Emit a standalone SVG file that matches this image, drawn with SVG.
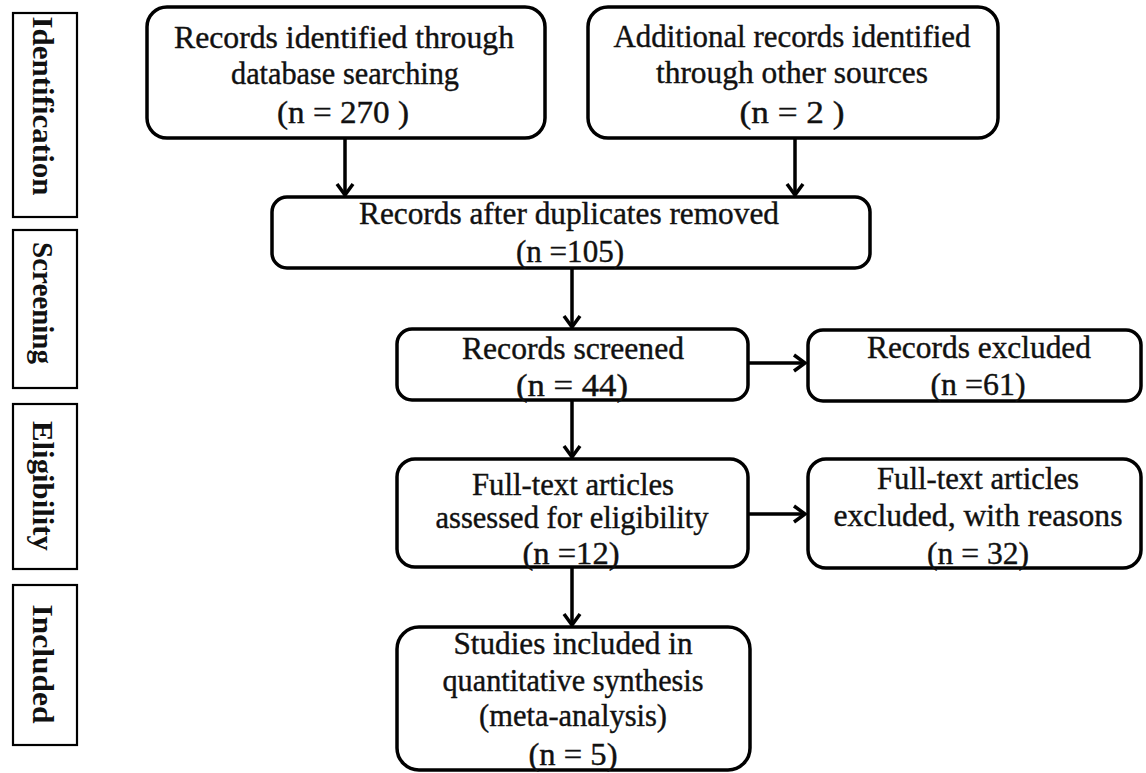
<svg xmlns="http://www.w3.org/2000/svg" width="1146" height="773" viewBox="0 0 1146 773">
<style>
  .bg{fill:#ffffff}
  .box{fill:#ffffff;stroke:#000;stroke-width:3.5}
  .lab{fill:#ffffff;stroke:#000;stroke-width:2.2}
  .c{stroke:#000;stroke-width:3.5;fill:none}
</style>
<defs>
  <marker id="ah" viewBox="-14 -10 16 20" refX="0" refY="0" markerWidth="16" markerHeight="20" markerUnits="userSpaceOnUse" orient="auto">
    <path d="M-11,-8 L0,0 L-11,8" fill="none" stroke="#000" stroke-width="3.5"/>
  </marker>
</defs>
<rect class="bg" x="0" y="0" width="1146" height="773"/>

<g font-family="Liberation Serif, Times New Roman, serif" font-size="29" font-weight="bold" fill="#111" text-anchor="middle">
<g id="stage-identification">
  <rect class="lab" x="13" y="13" width="64" height="204"/>
  <text transform="translate(33,106) rotate(90)" x="0" y="0" textLength="179" lengthAdjust="spacingAndGlyphs">Identification</text>
</g>
<g id="stage-screening">
  <rect class="lab" x="13" y="230" width="64" height="158"/>
  <text transform="translate(33,303) rotate(90)" x="0" y="0" textLength="122" lengthAdjust="spacingAndGlyphs">Screening</text>
</g>
<g id="stage-eligibility">
  <rect class="lab" x="13" y="404" width="64" height="165"/>
  <text transform="translate(33,486) rotate(90)" x="0" y="0" textLength="130" lengthAdjust="spacingAndGlyphs">Eligibility</text>
</g>
<g id="stage-included">
  <rect class="lab" x="13" y="585" width="64" height="160"/>
  <text transform="translate(33,664) rotate(90)" x="0" y="0" textLength="119" lengthAdjust="spacingAndGlyphs">Included</text>
</g>
</g>

<g id="connectors">
  <line class="c" x1="345" y1="138" x2="345" y2="195" marker-end="url(#ah)"/>
  <line class="c" x1="795" y1="138" x2="795" y2="195" marker-end="url(#ah)"/>
  <line class="c" x1="572" y1="268" x2="572" y2="327" marker-end="url(#ah)"/>
  <line class="c" x1="748" y1="363" x2="805" y2="363" marker-end="url(#ah)"/>
  <line class="c" x1="572" y1="400" x2="572" y2="457" marker-end="url(#ah)"/>
  <line class="c" x1="748" y1="514" x2="805" y2="514" marker-end="url(#ah)"/>
  <line class="c" x1="572" y1="567" x2="572" y2="625" marker-end="url(#ah)"/>
</g>

<g font-family="Liberation Serif, Times New Roman, serif" font-size="32" fill="#111" stroke="#111" stroke-width="0.4" text-anchor="middle">
<g id="n-db">
  <rect class="box" x="147" y="7" width="398" height="131" rx="20"/>
  <text x="344" y="48" textLength="340" lengthAdjust="spacingAndGlyphs">Records identified  through</text>
  <text x="345" y="84" textLength="228" lengthAdjust="spacingAndGlyphs">database searching</text>
  <text x="343" y="123" textLength="132" lengthAdjust="spacingAndGlyphs">(n =  270 )</text>
</g>
<g id="n-other">
  <rect class="box" x="588" y="7" width="410" height="131" rx="20"/>
  <text x="792" y="47" textLength="357" lengthAdjust="spacingAndGlyphs">Additional  records identified</text>
  <text x="792" y="83" textLength="272" lengthAdjust="spacingAndGlyphs">through  other sources</text>
  <text x="792" y="123" textLength="105" lengthAdjust="spacingAndGlyphs">(n = 2  )</text>
</g>
<g id="n-dup">
  <rect class="box" x="272" y="197" width="598" height="71" rx="15"/>
  <text x="569" y="224" textLength="420" lengthAdjust="spacingAndGlyphs">Records after duplicates  removed</text>
  <text x="570" y="262" textLength="108" lengthAdjust="spacingAndGlyphs">(n =105)</text>
</g>
<g id="n-screened">
  <rect class="box" x="397" y="329" width="351" height="71" rx="15"/>
  <text x="573" y="359" textLength="222" lengthAdjust="spacingAndGlyphs">Records screened</text>
  <text x="572" y="396" textLength="112" lengthAdjust="spacingAndGlyphs">(n =  44)</text>
</g>
<g id="n-excluded">
  <rect class="box" x="808" y="330" width="333" height="71" rx="15"/>
  <text x="979" y="358" textLength="224" lengthAdjust="spacingAndGlyphs">Records excluded</text>
  <text x="978" y="395" textLength="95" lengthAdjust="spacingAndGlyphs">(n =61)</text>
</g>
<g id="n-fulltext">
  <rect class="box" x="397" y="459" width="351" height="108" rx="18"/>
  <text x="573" y="495" textLength="202" lengthAdjust="spacingAndGlyphs">Full-text  articles</text>
  <text x="572" y="528" textLength="273" lengthAdjust="spacingAndGlyphs">assessed for  eligibility</text>
  <text x="571" y="564" textLength="97" lengthAdjust="spacingAndGlyphs">(n =12)</text>
</g>
<g id="n-ftexcluded">
  <rect class="box" x="808" y="459" width="333" height="109" rx="18"/>
  <text x="978" y="489" textLength="202" lengthAdjust="spacingAndGlyphs">Full-text  articles</text>
  <text x="978" y="526" textLength="289" lengthAdjust="spacingAndGlyphs">excluded,  with  reasons</text>
  <text x="978" y="564" textLength="102" lengthAdjust="spacingAndGlyphs">(n = 32)</text>
</g>
<g id="n-included">
  <rect class="box" x="397" y="627" width="353" height="143" rx="22"/>
  <text x="573" y="654" textLength="239" lengthAdjust="spacingAndGlyphs">Studies included  in</text>
  <text x="573" y="691" textLength="261" lengthAdjust="spacingAndGlyphs">quantitative  synthesis</text>
  <text x="573" y="726" textLength="188" lengthAdjust="spacingAndGlyphs">(meta-analysis)</text>
  <text x="573" y="765" textLength="89" lengthAdjust="spacingAndGlyphs">(n = 5)</text>
</g>
</g>
</svg>
